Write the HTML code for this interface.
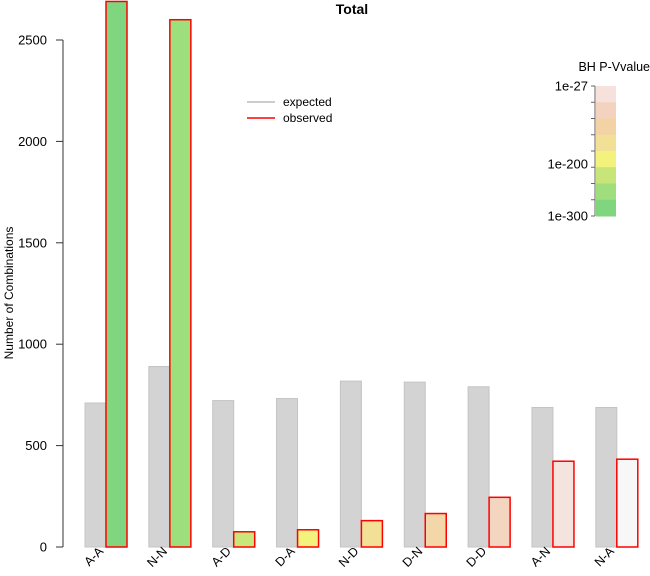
<!DOCTYPE html>
<html><head><meta charset="utf-8"><style>
body{margin:0;background:#fff;}
svg text{font-family:"Liberation Sans",Arial,sans-serif;fill:#000;}
</style></head><body>
<svg id="chart" width="650" height="571" viewBox="0 0 650 571" xmlns="http://www.w3.org/2000/svg">
<text x="352" y="14" font-size="14" font-weight="bold" text-anchor="middle">Total</text>
<text transform="translate(13,293) rotate(-90)" font-size="12" text-anchor="middle">Number of Combinations</text>
<g id="yaxis"></g>
<g id="bars"></g>
<g id="xlabels"></g>
<g>
  <line x1="247" y1="102" x2="275" y2="102" stroke="#bbb" stroke-width="1.5"/>
  <text x="283" y="106" font-size="12">expected</text>
  <line x1="247" y1="118" x2="275" y2="118" stroke="#f00" stroke-width="1.5"/>
  <text x="283" y="122" font-size="12">observed</text>
</g>
<g id="colorlegend">
  <text x="650" y="71" font-size="12.5" text-anchor="end">BH P-Vvalue</text>
</g>
</svg>
<script>
const categories = ["A-A","N-N","A-D","D-A","N-D","D-N","D-D","A-N","N-A"];
const expected = [710, 890, 722, 732, 818, 813, 790, 688, 688];
const observed = [2690, 2600, 75, 85, 130, 165, 245, 423, 433];
const observedColors = ["#7fd67f","#9ddf7d","#c8e67a","#f3f27c","#f2e096","#f3d7a8","#f3d5c0","#f5e3dd","#f7f7f7"];
const yTicks = [0, 500, 1000, 1500, 2000, 2500];
const legendColors = ["#f6e1dc","#f3d3bf","#f3d3a6","#f2e096","#f3f27c","#c8e57a","#a0dd7c","#7fd67f"];
const legendLabels = ["1e-27","1e-200","1e-300"];
const legendLabelPos = [0, 0.6, 1];

const NS = "http://www.w3.org/2000/svg";
const y0 = 547, yPer = (547-40)/2500;
function yScale(v){ return y0 - v*yPer; }
function xGroup(i){ return 85 + i*63.85; }
const bw = 21;
function mk(tag, attrs, parent){
  const e = document.createElementNS(NS, tag);
  for (const k in attrs) e.setAttribute(k, attrs[k]);
  parent.appendChild(e); return e;
}
const yaxis = document.getElementById('yaxis');
const ax = mk('line',{x1:63,y1:yScale(0),x2:63,y2:yScale(2500),stroke:'#333'},yaxis);


yTicks.forEach(t=>{
  const tk = mk('line',{x1:56,y1:yScale(t),x2:63,y2:yScale(t),stroke:'#333'},yaxis);
  
  
  const tl = mk('text',{x:47,y:yScale(t)+4.5,'font-size':13,'text-anchor':'end'},yaxis);
  
  
  tl.textContent = t;
});
const bars = document.getElementById('bars');
const xl = document.getElementById('xlabels');
categories.forEach((c,i)=>{
  const x = xGroup(i);
  const e = mk('rect',{x:x,y:yScale(expected[i]),width:bw,height:yScale(0)-yScale(expected[i]),fill:'#d3d3d3',stroke:'#c4c4c4','stroke-width':1},bars);
  
  
  const o = mk('rect',{x:x+bw,y:yScale(observed[i]),width:bw,height:yScale(0)-yScale(observed[i]),fill:observedColors[i],stroke:'#f00','stroke-width':1.5},bars);
  
  
  const t = mk('text',{transform:'translate('+(x+bw-2)+',552) rotate(-45)','font-size':12.5,'text-anchor':'end'},xl);
  
  
  t.textContent = c;
});
const cl = document.getElementById('colorlegend');
const lx = 596, ly = 86, lh = 130, seg = lh/legendColors.length;
legendColors.forEach((col,i)=>{
  const r = mk('rect',{x:lx,y:ly+i*seg,width:20,height:seg+0.5,fill:col},cl);
  
  
});
for(let i=0;i<=legendColors.length;i++){
  const tk = mk('line',{x1:591,y1:ly+i*seg,x2:595,y2:ly+i*seg,stroke:'#666'},cl);
  
  
}
const lline = mk('line',{x1:595,y1:ly,x2:595,y2:ly+lh,stroke:'#666'},cl);


legendLabels.forEach((l,i)=>{
  const t = mk('text',{x:588,y:ly+legendLabelPos[i]*lh+4.5,'font-size':13,'text-anchor':'end'},cl);
  
  
  t.textContent = l;
});
</script>
</body></html>
